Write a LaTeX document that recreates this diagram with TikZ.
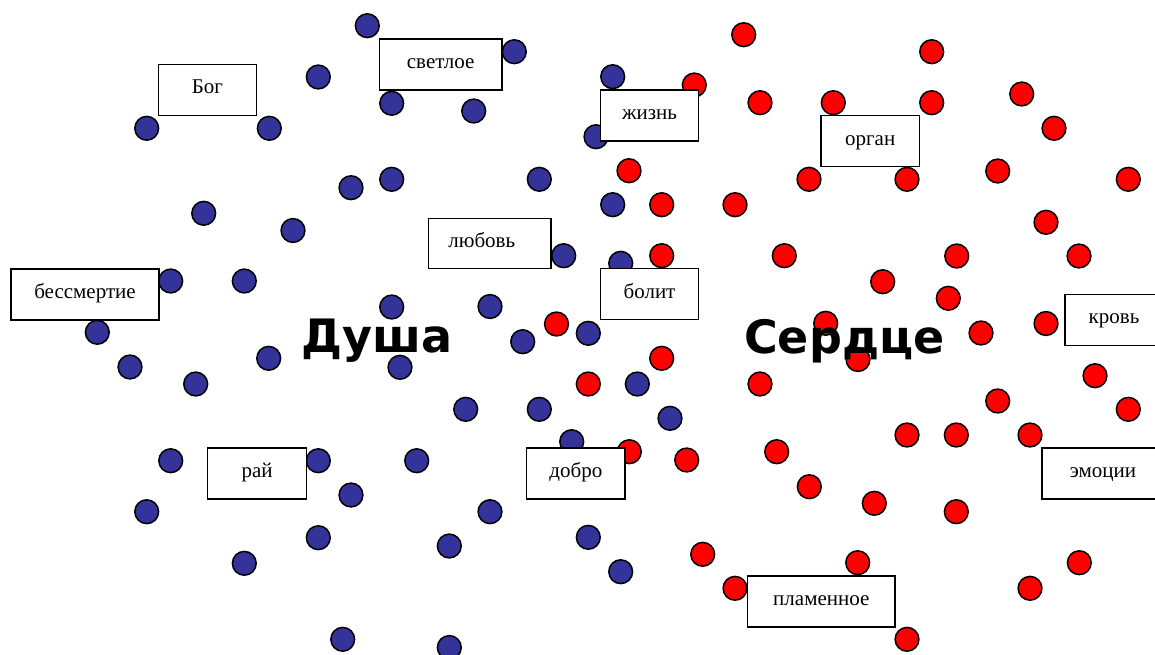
\documentclass[tikz,border=0pt]{standalone}
\usepackage{fontspec}
\setmainfont{Liberation Serif}
\newfontfamily\headfont{DejaVu Sans}
\definecolor{souldot}{HTML}{333399}
\definecolor{heartdot}{HTML}{FF0000}
\tikzset{
  dotbase/.style={circle, draw=black, line width=1.5pt, minimum size=23.8pt, inner sep=0pt},
  bdot/.style={dotbase, fill=souldot},
  rdot/.style={dotbase, fill=heartdot},
  wordbox/.style={rectangle, draw=black, fill=white, line width=1.5pt, minimum height=51pt,
    inner sep=0pt, text height=16pt, text depth=8pt, font=\fontsize{21}{24}\selectfont},
  headword/.style={anchor=base west, inner sep=0pt, font=\headfont\bfseries\fontsize{46}{50}\selectfont}
}
\begin{document}
\begin{tikzpicture}[x=1pt, y=-1pt]
\useasboundingbox (0,0) rectangle (1155,655);
\clip (0,0) rectangle (1155,655);
% blue dots (soul side)
\foreach \n/\px/\py in {
  b1/367.3/25.7, b2/514.3/51.7, b3/318.3/77, b4/391.7/103.3, b5/473.7/111,
  b6/146.7/128.3, b7/269.3/128.3, b8/612.7/76.7, b9/596/136.7, b10/351/187.7,
  b11/391.7/179.3, b12/539.3/179.3, b13/203.7/213.3, b14/293/230.5, b15/612.7/204.7,
  b16/170.7/281, b17/244.3/281, b18/563.7/255.7, b19/620.7/263.3, b20/391.7/307,
  b21/490/306.5, b22/97.3/332.3, b23/130/367, b24/195.7/384, b25/268.7/358.3,
  b26/400/367.3, b27/522.7/341.7, b28/588.3/333.3, b29/637.3/384, b30/465.7/409.3,
  b31/539.3/409.3, b32/670/418.3, b33/571.7/441.7, b34/170.7/460.7, b35/318.3/460.7,
  b36/416.7/460.7, b37/351/495, b38/146.7/511.7, b39/490/511.7, b40/318.3/537.7,
  b41/449.3/546, b42/588.3/537.3, b43/244.3/563.3, b44/620.7/571.7, b45/342.7/639.3,
  b46/449.3/647.5}
  \node[bdot] (\n) at (\px,\py) {};
% red dots (heart side)
\foreach \n/\px/\py in {
  r1/743.7/34.7, r2/931.7/51.7, r3/694.3/85, r4/760/102.7, r5/833.3/102.7,
  r6/931.7/102.7, r7/1021.7/94, r8/1054/128.3, r9/629/170.7, r10/809/179.3,
  r11/907/179.3, r12/997.7/171, r13/1128.3/179.3, r14/661.7/204.7, r15/735/204.7,
  r16/1046/222.3, r17/661.7/255.7, r18/784.3/255.7, r19/956.7/256, r20/1079/256,
  r21/882.7/281.7, r22/948.3/298.3, r23/556.5/324, r24/825.7/323.3, r25/981/333,
  r26/1046/323.5, r27/661.7/358.3, r28/858/359.5, r29/588.3/384, r30/760/384,
  r31/1095/375.7, r32/997.7/401, r33/1128.3/409.3, r34/907/435, r35/956.3/435,
  r36/1030/435, r37/629.3/451.7, r38/686.7/460, r39/776.7/451.7, r40/809.3/486.7,
  r41/874.3/503.3, r42/956.3/511.7, r43/702.7/554.3, r44/735/588.3, r45/857.7/562.7,
  r46/1079.3/562.7, r47/1030/588.3, r48/907/639.3}
  \node[rdot] (\n) at (\px,\py) {};
% word boxes
\node[wordbox, minimum width=98.4pt]  (bog)   at (207.5,90)    {Бог};
\node[wordbox, minimum width=122.7pt] (svet)  at (440.7,64.5)  {светлое};
\node[wordbox, minimum width=122.3pt, minimum height=50pt] (lub) at (489.8,243.3) {\hspace*{-16pt}любовь};
\node[wordbox, minimum width=97.6pt]  (zhizn) at (649.5,115.5) {жизнь};
\node[wordbox, minimum width=97.6pt]  (bolit) at (649.5,294.2) {болит};
\node[wordbox, minimum width=98.3pt]  (organ) at (870.2,141.2) {орган};
\node[wordbox, minimum width=148pt]   (bessm) at (85,294.3)    {бессмертие};
\node[wordbox, minimum width=98.3pt]  (krov)  at (1114,319.9)  {кровь};
\node[wordbox, minimum width=99pt]    (rai)   at (257.2,473.3) {рай};
\node[wordbox, minimum width=98.3pt]  (dobro) at (575.8,473.3) {добро};
\node[wordbox, minimum width=122.5pt] (emoc)  at (1103,473.3)  {эмоции};
\node[wordbox, minimum width=147.3pt] (plam)  at (821.3,601.5) {пламенное};
% headwords
\node[headword] (dusha)  at (301,352.5) {Душа};
\node[headword] (serdce) at (744,353)   {Сердце};
\end{tikzpicture}
\end{document}
